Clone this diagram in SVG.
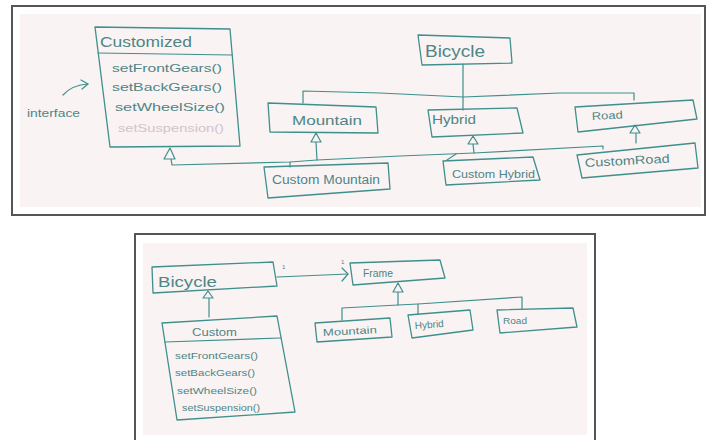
<svg xmlns="http://www.w3.org/2000/svg" width="706" height="440" viewBox="0 0 706 440">
  <style>
    .frame { fill: #ffffff; stroke: #555555; stroke-width: 2; }
    .paper { fill: #f9f3f4; stroke: none; }
    .box { fill: none; stroke: #3f8f8b; stroke-width: 1.3; stroke-linejoin: round; }
    .line { fill: none; stroke: #3f8f8b; stroke-width: 1.2; stroke-linejoin: round; stroke-linecap: round; }
    .tri { fill: #f9f3f4; stroke: #3f8f8b; stroke-width: 1.2; stroke-linejoin: round; }
    .t { font-family: "Liberation Sans", "DejaVu Sans", sans-serif; fill: #4f8584; }
    .faint { fill: #d2c4c8; }
  </style>

  <!-- sheet 1: Customized interface beside the Bicycle hierarchy -->
  <rect class="frame" x="12" y="6" width="693" height="209"/>
  <rect class="paper" x="20" y="14" width="681" height="193"/>

  <g id="connectors-top">
    <!-- Bicycle to its three subtypes -->
    <path class="line" d="M463,64 L463,110"/>
    <path class="line" d="M303,103 L303,91 L380,93 L463,97 L560,93 L634,93 L634,100"/>
    <!-- realization line shared by the custom classes -->
    <path class="line" d="M171,159 L172,165 L290,162 L317,160 L400,156 L474,153 L603,146 L603,149"/>
    <path class="line" d="M290,162 L290,167"/>
    <path class="line" d="M447,160 L456,154"/>
    <!-- stems under the inheritance triangles -->
    <path class="line" d="M316,142 L317,160"/>
    <path class="line" d="M473,144 L474,153"/>
    <path class="line" d="M636,133 L636,143"/>
    <!-- triangles -->
    <polygon class="tri" points="170,148 164,159 175,159"/>
    <polygon class="tri" points="316,133 311,142 321,142"/>
    <polygon class="tri" points="473,136 468,144 478,144"/>
    <polygon class="tri" points="635,125 630,133 640,133"/>
    <!-- note arrow -->
    <path class="line" d="M63,95 Q72,85 88,84"/>
    <path class="line" d="M81,80 L88,84 L82,89"/>
  </g>

  <g id="note-interface">
    <text class="t" x="27" y="117" font-size="11" textLength="53" lengthAdjust="spacingAndGlyphs">interface</text>
  </g>

  <g id="customized">
    <polygon class="box" points="95,27 230,29 240,146 110,147"/>
    <path class="line" d="M98,53 L232,55"/>
    <text class="t" x="100" y="47" font-size="15" textLength="92" lengthAdjust="spacingAndGlyphs">Customized</text>
    <text class="t" x="112" y="72" font-size="11" textLength="110" lengthAdjust="spacingAndGlyphs">setFrontGears()</text>
    <text class="t" x="112" y="91" font-size="11" textLength="110" lengthAdjust="spacingAndGlyphs">setBackGears()</text>
    <text class="t" x="115" y="111" font-size="11" textLength="110" lengthAdjust="spacingAndGlyphs">setWheelSize()</text>
    <text class="t faint" x="118" y="132" font-size="11" textLength="106" lengthAdjust="spacingAndGlyphs">setSuspension()</text>
  </g>

  <g id="bicycle-top">
    <polygon class="box" points="418,35 510,38 512,63 422,65"/>
    <text class="t" x="425" y="57" font-size="17" textLength="60" lengthAdjust="spacingAndGlyphs">Bicycle</text>
  </g>

  <g id="mountain-top">
    <polygon class="box" points="268,103 376,107 378,133 270,132"/>
    <text class="t" x="292" y="125" font-size="13" textLength="70" lengthAdjust="spacingAndGlyphs">Mountain</text>
  </g>

  <g id="hybrid-top">
    <polygon class="box" points="428,110 517,108 523,133 432,137"/>
    <text class="t" x="432" y="124" font-size="12" textLength="44" lengthAdjust="spacingAndGlyphs">Hybrid</text>
  </g>

  <g id="road-top">
    <polygon class="box" points="575,107 693,100 697,119 578,132"/>
    <text class="t" x="592" y="120" font-size="11" textLength="31" lengthAdjust="spacingAndGlyphs" transform="rotate(-3 592 120)">Road</text>
  </g>

  <g id="custom-mountain">
    <polygon class="box" points="264,167 388,163 390,189 268,198"/>
    <text class="t" x="272" y="184" font-size="12" textLength="108" lengthAdjust="spacingAndGlyphs">Custom Mountain</text>
  </g>

  <g id="custom-hybrid">
    <polygon class="box" points="443,161 533,157 540,180 446,185"/>
    <text class="t" x="452" y="178" font-size="11" textLength="83" lengthAdjust="spacingAndGlyphs">Custom Hybrid</text>
  </g>

  <g id="custom-road">
    <polygon class="box" points="577,155 695,143 698,168 582,178"/>
    <text class="t" x="585" y="167" font-size="12" textLength="85" lengthAdjust="spacingAndGlyphs" transform="rotate(-3 585 167)">CustomRoad</text>
  </g>

  <!-- sheet 2: Bicycle owning a Frame hierarchy -->
  <rect class="frame" x="135" y="234" width="460" height="210"/>
  <rect class="paper" x="143" y="243" width="444" height="192"/>

  <g id="connectors-bottom">
    <path class="line" d="M209,298 L209,317"/>
    <polygon class="tri" points="208,291 203,298 213,298"/>
    <path class="line" d="M277,277 L348,274"/>
    <path class="line" d="M342,268 L348,274 L342,281"/>
    <text class="t" x="282" y="269" font-size="6">1</text>
    <text class="t" x="341" y="264" font-size="6">1</text>
    <path class="line" d="M398,292 L398,305"/>
    <polygon class="tri" points="398,283 393,292 403,292"/>
    <path class="line" d="M342,320 L342,308 L398,305 L418,304 L522,297 L522,309"/>
    <path class="line" d="M418,304 L418,314"/>
  </g>

  <g id="bicycle-bottom">
    <polygon class="box" points="152,267 273,262 277,286 153,293"/>
    <text class="t" x="158" y="287" font-size="14" textLength="59" lengthAdjust="spacingAndGlyphs">Bicycle</text>
  </g>

  <g id="custom">
    <polygon class="box" points="162,323 277,316 295,412 177,420"/>
    <path class="line" d="M165,342 L281,338"/>
    <text class="t" x="192" y="336" font-size="10" textLength="45" lengthAdjust="spacingAndGlyphs">Custom</text>
    <text class="t" x="175" y="359" font-size="9" textLength="83" lengthAdjust="spacingAndGlyphs">setFrontGears()</text>
    <text class="t" x="175" y="376" font-size="9" textLength="80" lengthAdjust="spacingAndGlyphs">setBackGears()</text>
    <text class="t" x="177" y="394" font-size="9" textLength="80" lengthAdjust="spacingAndGlyphs">setWheelSize()</text>
    <text class="t" x="182" y="411" font-size="9" textLength="78" lengthAdjust="spacingAndGlyphs">setSuspension()</text>
  </g>

  <g id="frame">
    <polygon class="box" points="350,263 440,260 445,278 353,285"/>
    <text class="t" x="363" y="277" font-size="10" textLength="30" lengthAdjust="spacingAndGlyphs">Frame</text>
  </g>

  <g id="mountain-bottom">
    <polygon class="box" points="315,323 390,318 392,337 317,342"/>
    <text class="t" x="323" y="336" font-size="10" textLength="54" lengthAdjust="spacingAndGlyphs" transform="rotate(-3 323 336)">Mountain</text>
  </g>

  <g id="hybrid-bottom">
    <polygon class="box" points="408,315 470,310 473,330 412,338"/>
    <text class="t" x="415" y="329" font-size="10" textLength="29" lengthAdjust="spacingAndGlyphs" transform="rotate(-4 415 329)">Hybrid</text>
  </g>

  <g id="road-bottom">
    <polygon class="box" points="497,310 573,308 577,327 500,333"/>
    <text class="t" x="503" y="324" font-size="9" textLength="24" lengthAdjust="spacingAndGlyphs">Road</text>
  </g>
</svg>
